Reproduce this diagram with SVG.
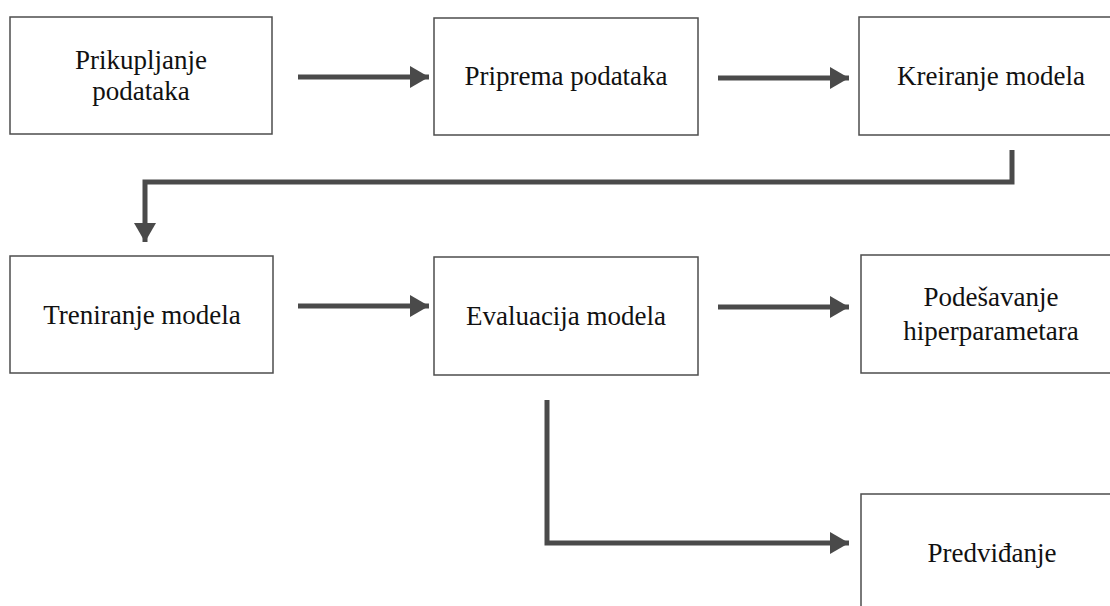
<svg xmlns="http://www.w3.org/2000/svg" width="1110" height="606" viewBox="0 0 1110 606">
<style>
.box{fill:#fff;stroke:#4d4d4d;stroke-width:1.5}
.t{font-family:"Liberation Serif","Times New Roman",serif;font-size:27px;fill:#111;text-anchor:middle}
.c{fill:none;stroke:#4a4a4a;stroke-width:5;stroke-linejoin:miter}
</style>
<defs>
<marker id="ah" markerUnits="userSpaceOnUse" markerWidth="21" markerHeight="24" refX="19" refY="11" orient="auto">
<path d="M0,0 L19,11 L0,22 Z" fill="#4a4a4a"/>
</marker>
</defs>
<rect width="1110" height="606" fill="#fff"/>
<g id="n1"><rect class="box" x="10" y="17" width="262" height="117"/><text class="t" x="141" y="69">Prikupljanje</text><text class="t" x="141" y="100">podataka</text></g>
<g id="n2"><rect class="box" x="434" y="18" width="264" height="117"/><text class="t" x="566" y="85">Priprema podataka</text></g>
<g id="n3"><rect class="box" x="859" y="17" width="264" height="118"/><text class="t" x="991" y="85">Kreiranje modela</text></g>
<g id="n4"><rect class="box" x="10" y="256" width="263" height="117"/><text class="t" x="142" y="324">Treniranje modela</text></g>
<g id="n5"><rect class="box" x="434" y="257" width="264" height="118"/><text class="t" x="566" y="325">Evaluacija modela</text></g>
<g id="n6"><rect class="box" x="861" y="255" width="262" height="118"/><text class="t" x="991" y="306">Podešavanje</text><text class="t" x="991" y="340">hiperparametara</text></g>
<g id="n7"><rect class="box" x="861" y="494" width="262" height="130"/><text class="t" x="992" y="562">Predviđanje</text></g>
<g id="connectors">
<path class="c" d="M298,77 H429" marker-end="url(#ah)"/>
<path class="c" d="M718,78 H849" marker-end="url(#ah)"/>
<path class="c" d="M1012,150 V182 H145 V242" marker-end="url(#ah)"/>
<path class="c" d="M298,306 H429" marker-end="url(#ah)"/>
<path class="c" d="M718,307 H849" marker-end="url(#ah)"/>
<path class="c" d="M547,400 V543 H849" marker-end="url(#ah)"/>
</g>
</svg>
